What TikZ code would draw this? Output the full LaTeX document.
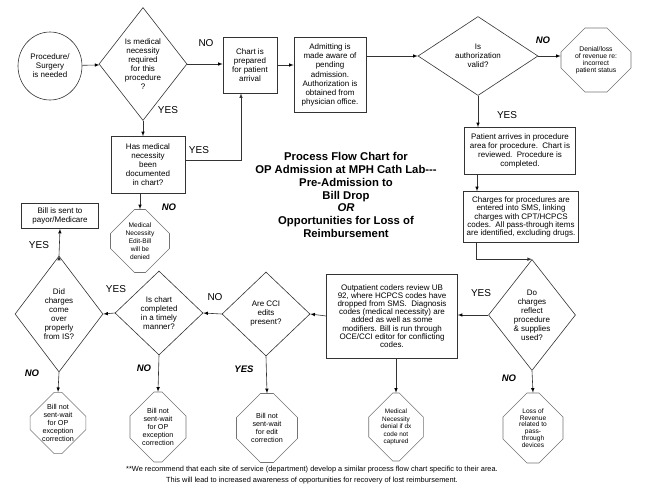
\documentclass[tikz,border=0pt]{standalone}
\usepackage{fontspec}
\setmainfont{Liberation Sans}
\usepackage{tikz}
\usetikzlibrary{shapes.geometric,shapes.misc}

\tikzset{
  process/.style={draw=black!80, line width=0.6pt, rectangle, inner sep=1pt,
    align=center, font=\fontsize{8}{9}\selectfont},
  decision/.style={draw=black!80, line width=0.6pt, diamond, inner sep=0pt,
    align=center, font=\fontsize{8}{9}\selectfont},
  stopsign/.style={draw=black!55, line width=0.6pt, chamfered rectangle,
    chamfered rectangle xsep=12pt, chamfered rectangle ysep=12pt,
    inner sep=0pt, align=center, font=\fontsize{7.2}{8}\selectfont},
  startnode/.style={draw=black!80, line width=0.6pt, ellipse, inner sep=0pt,
    align=center, font=\fontsize{8}{9}\selectfont},
  answer/.style={inner sep=0pt, font=\fontsize{10}{10}\selectfont},
  answerbi/.style={inner sep=0pt, font=\bfseries\itshape\fontsize{9.5}{10}\selectfont},
}

\begin{document}
\begin{tikzpicture}[x=1pt,y=-1pt,>=latex]
		\useasboundingbox (0,0) rectangle (648,491);
		% top row
		\node[startnode, minimum width=64, minimum height=68] (proc) at (50,66) {Procedure/\\Surgery\\is needed};
		\node[decision, aspect=0.78, minimum width=88, minimum height=113] (medreq) at (143,64) {Is medical\\necessity\\required\\for this\\procedure\\?};
		\node[process, minimum width=54, minimum height=56] (chart) at (250,65) {Chart is\\prepared\\for patient\\arrival};
		\node[process, minimum width=72, minimum height=75, font=\fontsize{8}{9.2}\selectfont] (admit) at (330,75) {Admitting is\\made aware of\\pending\\admission.\\Authorization is\\obtained from\\physician office.};
		\node[decision, aspect=1.52, minimum width=120, minimum height=79] (auth) at (478,56) {Is\\authorization\\valid?};
		\node[stopsign, minimum width=70, minimum height=64, font=\fontsize{6.8}{7}\selectfont] (denial) at (596,60) {Denial/loss\\of revenue re:\\incorrect\\patient status};
		%
		\node[process, minimum width=74, minimum height=57] (hasmed) at (148,165) {Has medical\\necessity\\been\\documented\\in chart?};
		\node[stopsign, minimum width=59, minimum height=63, font=\fontsize{6.6}{8}\selectfont] (mned) at (140,241) {Medical\\Necessity\\Edit-Bill\\will be\\denied};
		\node[process, minimum width=77, minimum height=25] (billsent) at (60,216) {Bill is sent to\\payor/Medicare};
		% right column
		\node[process, minimum width=111, minimum height=47] (patient) at (520,151) {Patient arrives in procedure\\area for procedure.\ \ Chart is\\reviewed.\ \ Procedure is\\completed.};
		\node[process, minimum width=115, minimum height=51, font=\fontsize{8}{8.3}\selectfont] (charges) at (521,217) {Charges for procedures are\\entered into SMS, linking\\charges with CPT/HCPCS\\codes.\ \ All pass-through items\\are identified, excluding drugs.};
		\node[decision, aspect=0.78, minimum width=87, minimum height=111] (reflect) at (532,315) {Do\\charges\\reflect\\procedure\\\& supplies\\used?};
		\node[stopsign, minimum width=60, minimum height=70, font=\fontsize{6.6}{6.9}\selectfont] (lossrev) at (533,428) {Loss of\\Revenue\\related to\\pass-\\through\\devices};
		% bottom row
		\node[process, minimum width=131, minimum height=84, font=\fontsize{8}{8.1}\selectfont] (coders) at (392,316) {Outpatient coders review UB\\92, where HCPCS codes have\\dropped from SMS.\ \ Diagnosis\\codes (medical necessity) are\\added as well as some\\modifiers. Bill is run through\\OCE/CCI editor for conflicting\\codes.};
		\node[stopsign, minimum width=52, minimum height=68, font=\fontsize{6.4}{7.5}\selectfont] (mnd) at (396,427) {Medical\\Necessity\\denial if dx\\code not\\captured};
		\node[decision, aspect=1.05, minimum width=88, minimum height=84] (cci) at (266,314) {Are CCI\\edits\\present?};
		\node[stopsign, minimum width=61, minimum height=69] (editcorr) at (267,428) {Bill not\\sent-wait\\for edit\\correction};
		\node[decision, aspect=1.05, minimum width=88, minimum height=84] (timely) at (159,313) {Is chart\\completed\\in a timely\\manner?};
		\node[stopsign, minimum width=56, minimum height=70] (opexcB) at (158,427) {Bill not\\sent-wait\\for OP\\exception\\correction};
		\node[decision, aspect=0.76, minimum width=88, minimum height=116] (didch) at (59,314) {Did\\charges\\come\\over\\properly\\from IS?};
		\node[stopsign, minimum width=53, minimum height=61] (opexcA) at (58,423) {Bill not\\sent-wait\\for OP\\exception\\correction};
		% answers
		\node[answer] (noA) at (206,43) {NO};
		\node[answer] (yesA) at (168,110) {YES};
		\node[answerbi] (noB) at (543,40) {NO};
		\node[answer] (yesB) at (507,115) {YES};
		\node[answer] (yesC) at (199,150) {YES};
		\node[answerbi] (noC) at (169,207) {NO};
		\node[answer] (yesD) at (481,293) {YES};
		\node[answerbi] (noD) at (509,378) {NO};
		\node[answer] (noE) at (215,297) {NO};
		\node[answerbi] (yesE) at (244,369) {YES};
		\node[answer] (yesF) at (116,289) {YES};
		\node[answerbi] (noF) at (144,368) {NO};
		\node[answer] (yesG) at (39,245) {YES};
		\node[answerbi] (noG) at (32,373) {NO};
		% title and note
		\node[align=center, font=\bfseries\fontsize{11.3}{12.7}\selectfont] (title) at (346,195) {Process Flow Chart for\\OP Admission at MPH Cath Lab-{}-{}-\\Pre-Admission to\\Bill Drop\\\textit{OR}\\Opportunities for Loss of\\Reimbursement};
		\node[align=center, font=\fontsize{7.4}{11.5}\selectfont] (note) at (312,475) {**We recommend that each site of service (department) develop a similar process flow chart specific to their area.\\This will lead to increased awareness of opportunities for recovery of lost reimbursement.};
		%
		\path[->,line width=0.6pt,draw=black!80]
		% top row
		(proc) edge (medreq)
		(medreq.east) edge (medreq.east -| chart.west)
		(chart.east) edge (chart.east -| admit.west)
		(auth.west -| admit.east) edge (auth.west)
		(auth.east) edge (auth.east -| denial.west)
		(medreq.south) edge (medreq.south |- hasmed.north)
		(mned.north |- hasmed.south) edge (mned.north)
		% right column
		(auth.south) edge (auth.south |- patient.north)
		([xshift=-43]patient.south) edge ([xshift=-43]patient.south |- charges.north)
		(reflect.south) edge (lossrev.north)
		% bottom row, right to left
		(reflect.west) edge (reflect.west -| coders.east)
		(coders.west) edge (cci.east)
		(mnd.north |- coders.south) edge (mnd.north)
		(cci.west) edge (timely.east)
		(cci.south) edge (editcorr.north)
		(timely.west) edge (didch.east)
		(timely.south) edge (opexcB.north)
		(didch.south) edge (opexcA.north)
		(didch.north) edge (billsent.south);
		% elbows
		\draw[->,line width=0.6pt,draw=black!80] ([yshift=5]hasmed.east) -| ([xshift=-9]chart.south);
		\draw[->,line width=0.6pt,draw=black!80] ([xshift=-45]charges.south) |- (reflect.north);
\end{tikzpicture}
\end{document}
